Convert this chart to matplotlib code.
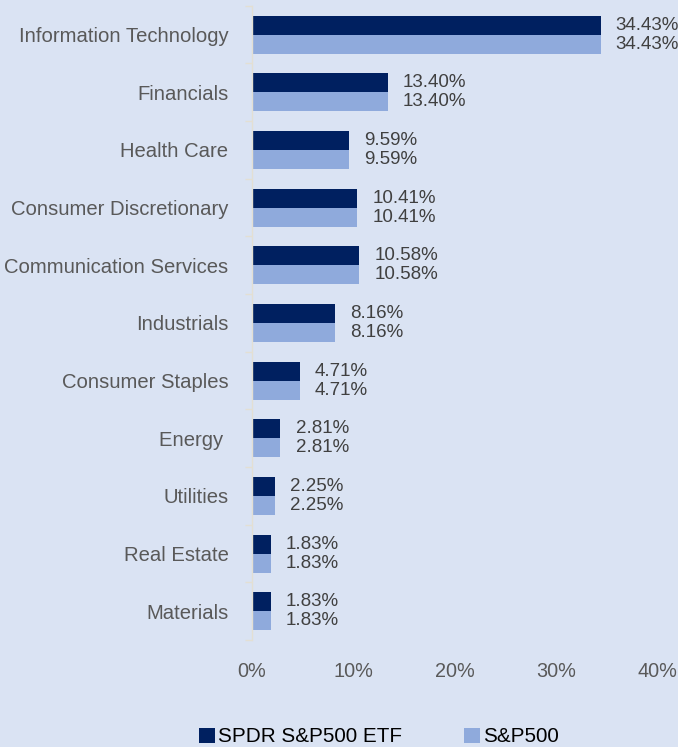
import matplotlib.pyplot as plt
import numpy as np

plt.rcParams['font.family'] = ['Liberation Sans', 'DejaVu Sans']

sectors = ['Information Technology', 'Financials', 'Health Care',
           'Consumer Discretionary', 'Communication Services', 'Industrials',
           'Consumer Staples', 'Energy ', 'Utilities', 'Real Estate', 'Materials']
spdr = [34.43, 13.40, 9.59, 10.41, 10.58, 8.16, 4.71, 2.81, 2.25, 1.83, 1.83]
sp500 = [34.43, 13.40, 9.59, 10.41, 10.58, 8.16, 4.71, 2.81, 2.25, 1.83, 1.83]
xticks = [0, 10, 20, 30, 40]

bg = '#DAE3F3'
dark = '#002060'
light = '#8FAADC'

fig = plt.figure(figsize=(6.78, 7.47), dpi=100, facecolor=bg)
ax = fig.add_axes([0.3717, 0.1432, 0.5973, 0.849], facecolor=bg)

y = np.arange(len(sectors))
h = 0.33
ax.barh(y - h / 2, spdr, height=h, color=dark, label='SPDR S&P500 ETF')
ax.barh(y + h / 2, sp500, height=h, color=light, label='S&P500')

for i in range(len(sectors)):
    ax.text(spdr[i] + 1.5, y[i] - h / 2, '%.2f%%' % spdr[i], va='center',
            ha='left', fontsize=13.5, color='#404040', clip_on=False)
    ax.text(sp500[i] + 1.5, y[i] + h / 2, '%.2f%%' % sp500[i], va='center',
            ha='left', fontsize=13.5, color='#404040', clip_on=False)

ax.set_xlim(0, 40)
ax.set_ylim(len(sectors) - 0.5, -0.5)
ax.set_yticks(y)
ax.set_yticklabels(sectors, fontsize=14.6, color='#595959')
ax.set_yticks(np.arange(len(sectors) + 1) - 0.5, minor=True)
ax.tick_params(axis='y', which='major', length=0, pad=17)
ax.tick_params(axis='y', which='minor', length=5, color='#E3DFD3', width=1)
ax.set_xticks(xticks)
ax.set_xticklabels(['%d%%' % t for t in xticks], fontsize=14.3, color='#595959')
ax.tick_params(axis='x', length=0, pad=16)

for s in ['top', 'right', 'bottom']:
    ax.spines[s].set_visible(False)
ax.spines['left'].set_color('#E3DFD3')
ax.spines['left'].set_linewidth(1)

fig.legend(loc='center', bbox_to_anchor=(0.559, 0.0134), ncol=2,
           frameon=False, fontsize=14.9, handlelength=0.77, handleheight=0.77,
           handletextpad=0.15, columnspacing=3.0)

fig.savefig('out.png', dpi=100, facecolor=bg)
